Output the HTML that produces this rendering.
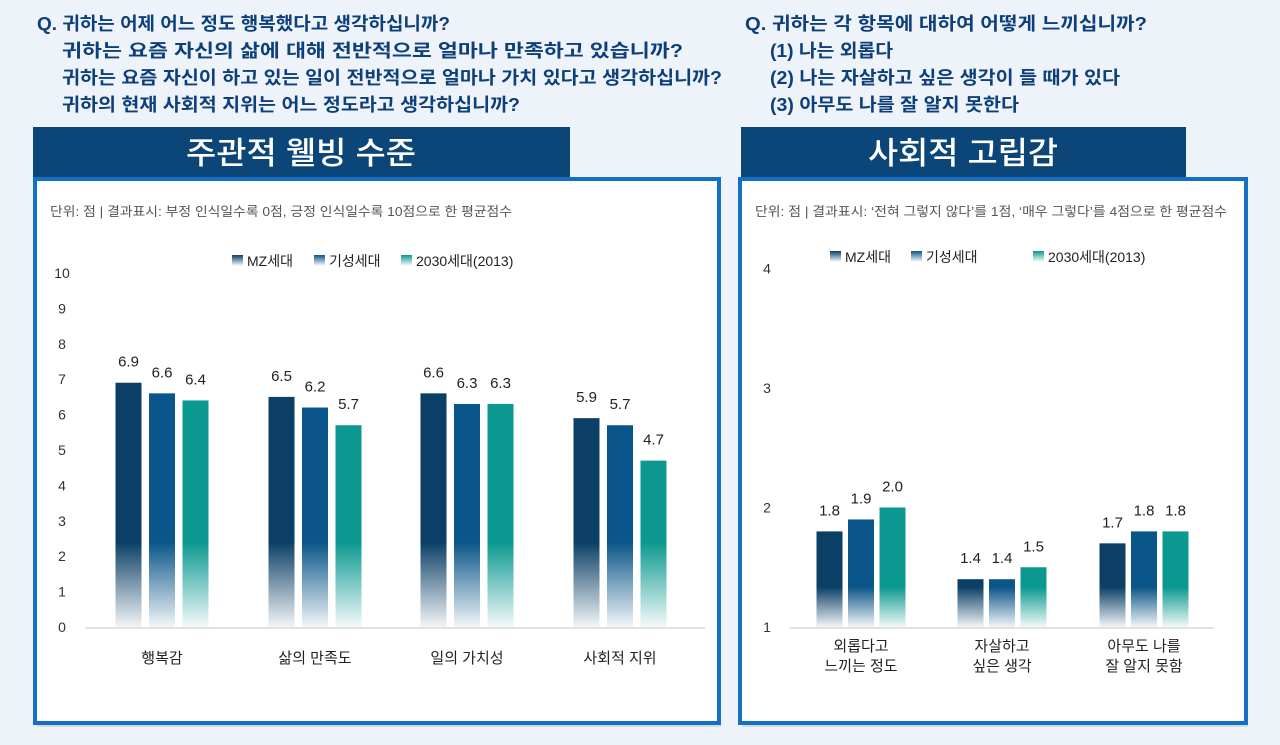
<!DOCTYPE html>
<html><head><meta charset="utf-8">
<style>
html,body{margin:0;padding:0;background:#eef3f9;}
svg{display:block;font-family:"Liberation Sans","Noto Sans CJK KR",sans-serif;}
</style></head>
<body>
<svg id="root" width="1280" height="745" viewBox="0 0 1280 745">
<defs>
 <linearGradient id="g0" x1="0" y1="0" x2="0" y2="1"><stop offset="0" stop-color="#0b3f66"/><stop offset="1" stop-color="#0b3f66" stop-opacity="0"/></linearGradient>
 <linearGradient id="g1" x1="0" y1="0" x2="0" y2="1"><stop offset="0" stop-color="#0a5589"/><stop offset="1" stop-color="#0a5589" stop-opacity="0"/></linearGradient>
 <linearGradient id="g2" x1="0" y1="0" x2="0" y2="1"><stop offset="0" stop-color="#0b9890"/><stop offset="1" stop-color="#0b9890" stop-opacity="0"/></linearGradient>
</defs>
<rect width="1280" height="745" fill="#eef3f9"/>
<g fill="#0d3f7a" font-size="18" font-weight="600">
 <text x="37" y="30" textLength="413" lengthAdjust="spacingAndGlyphs">Q. 귀하는 어제 어느 정도 행복했다고 생각하십니까?</text>
 <text x="62" y="57" textLength="621" lengthAdjust="spacingAndGlyphs">귀하는 요즘 자신의 삶에 대해 전반적으로 얼마나 만족하고 있습니까?</text>
 <text x="62" y="84" textLength="660" lengthAdjust="spacingAndGlyphs">귀하는 요즘 자신이 하고 있는 일이 전반적으로 얼마나 가치 있다고 생각하십니까?</text>
 <text x="62" y="111" textLength="458" lengthAdjust="spacingAndGlyphs">귀하의 현재 사회적 지위는 어느 정도라고 생각하십니까?</text>
</g>
<g fill="#0d3f7a" font-size="18" font-weight="600">
 <text x="745" y="30" textLength="402" lengthAdjust="spacingAndGlyphs">Q. 귀하는 각 항목에 대하여 어떻게 느끼십니까?</text>
 <text x="770" y="57" textLength="123" lengthAdjust="spacingAndGlyphs">(1) 나는 외롭다</text>
 <text x="770" y="84" textLength="350" lengthAdjust="spacingAndGlyphs">(2) 나는 자살하고 싶은 생각이 들 때가 있다</text>
 <text x="770" y="111" textLength="249" lengthAdjust="spacingAndGlyphs">(3) 아무도 나를 잘 알지 못한다</text>
</g>
<rect x="33" y="127" width="537" height="52" fill="#0c4679"/>
<text x="301" y="164" font-size="31" font-weight="500" fill="#fff" text-anchor="middle" textLength="230" lengthAdjust="spacingAndGlyphs">주관적 웰빙 수준</text>
<rect x="741" y="127" width="445" height="52" fill="#0c4679"/>
<text x="963" y="164" font-size="31" font-weight="500" fill="#fff" text-anchor="middle" textLength="190" lengthAdjust="spacingAndGlyphs">사회적 고립감</text>
<rect x="37" y="183" width="684" height="544" fill="#d5dbe3"/>
<rect x="742" y="183" width="506" height="544" fill="#d5dbe3"/>
<rect x="35" y="179" width="684" height="544" fill="#fff" stroke="#1470c4" stroke-width="4"/>
<rect x="740" y="179" width="506" height="544" fill="#fff" stroke="#1470c4" stroke-width="4"/>
<text x="50" y="216" font-size="13" fill="#555" textLength="462" lengthAdjust="spacingAndGlyphs">단위: 점 | 결과표시: 부정 인식일수록 0점, 긍정 인식일수록 10점으로 한 평균점수</text>
<text x="755" y="216" font-size="13" fill="#555" textLength="472" lengthAdjust="spacingAndGlyphs">단위: 점 | 결과표시: ‘전혀 그렇지 않다’를 1점, ‘매우 그렇다’를 4점으로 한 평균점수</text>
<g id="c1"></g>
<g id="c2"></g>
</svg>
<script>
const seriesNames = ["MZ세대","기성세대","2030세대(2013)"];
const wellCats = ["행복감","삶의 만족도","일의 가치성","사회적 지위"];
const wellMZ = [6.9,6.5,6.6,5.9];
const wellOld = [6.6,6.2,6.3,5.7];
const well2030 = [6.4,5.7,6.3,4.7];
const wellTicks = [0,1,2,3,4,5,6,7,8,9,10];
const isoCats = [["외롭다고","느끼는 정도"],["자살하고","싶은 생각"],["아무도 나를","잘 알지 못함"]];
const isoMZ = [1.8,1.4,1.7];
const isoOld = [1.9,1.4,1.8];
const iso2030 = [2.0,1.5,1.8];
const isoTicks = [1,2,3,4];

const NS="http://www.w3.org/2000/svg";
function mk(parent,tag,attrs,text){const e=document.createElementNS(NS,tag);for(const k in attrs)e.setAttribute(k,attrs[k]);if(text!==undefined)e.textContent=text;parent.appendChild(e);return e;}
const fills=["url(#g0)","url(#g1)","url(#g2)"];
const solid=["#0b3f66","#0a5589","#0b9890"];

function chart(g,o){
  const y=v=>o.y0-(v-o.vmin)*o.ppu;
  o.ticks.forEach(t=>{const e=mk(g,"text",{x:o.tickX,y:y(t)+5,"font-size":14,fill:"#333","text-anchor":"middle"},t);
    
    });
  const base=mk(g,"line",{x1:o.bx1,x2:o.bx2,y1:o.y0+1,y2:o.y0+1,stroke:"#d8d8d8","stroke-width":1.5});
  
  
  o.series.forEach((s,si)=>{
    s.forEach((v,ci)=>{
      const cx=o.centers[ci]+(si-1)*o.step;
      const top=y(v),h=o.y0-top;
      const gr=mk(g,"linearGradient",{id:o.id+si+"_"+ci,x1:0,y1:top,x2:0,y2:o.y0,gradientUnits:"userSpaceOnUse"});
      const fadeStart=Math.max(0,1-o.fade/h);
      mk(gr,"stop",{offset:0,"stop-color":solid[si]});
      mk(gr,"stop",{offset:fadeStart,"stop-color":solid[si]});
      mk(gr,"stop",{offset:1,"stop-color":solid[si],"stop-opacity":0.05});
      const r=mk(g,"rect",{x:cx-o.bw/2,y:top,width:o.bw,height:h,fill:"url(#"+o.id+si+"_"+ci+")"});
      
      
      const l=mk(g,"text",{x:cx,y:top-16,"font-size":15,fill:"#222","text-anchor":"middle"},v.toFixed(1));
      
      
    });
  });
  o.cats.forEach((c,ci)=>{
    const lines=Array.isArray(c)?c:[c];
    lines.forEach((ln,li)=>{const t=mk(g,"text",{x:o.centers[ci],y:o.catY+li*20,"font-size":15,fill:"#222","text-anchor":"middle"},ln);
      
      });
  });
  seriesNames.forEach((n,i)=>{
    const r=mk(g,"rect",{x:o.legX[i],y:o.legY-6,width:11,height:11,fill:fills[i]});
    
    
    const t=mk(g,"text",{x:o.legX[i]+15,y:o.legY+5,"font-size":14,fill:"#222"},n);
    
    
  });
}
chart(document.getElementById("c1"),{id:"a",vmin:0,ppu:35.4,y0:627,ticks:wellTicks,tickX:62,bx1:85,bx2:705,
  centers:[162,315,467,620],step:33.5,bw:26,fade:85,series:[wellMZ,wellOld,well2030],cats:wellCats,catY:663,
  legX:[232,314,401],legY:261});
chart(document.getElementById("c2"),{id:"b",vmin:1,ppu:119.5,y0:627,ticks:isoTicks,tickX:767,bx1:790,bx2:1214,
  centers:[861,1002,1144],step:31.5,bw:26,fade:40,series:[isoMZ,isoOld,iso2030],cats:isoCats,catY:651,
  legX:[830,911,1033],legY:257});
</script>
</body></html>
